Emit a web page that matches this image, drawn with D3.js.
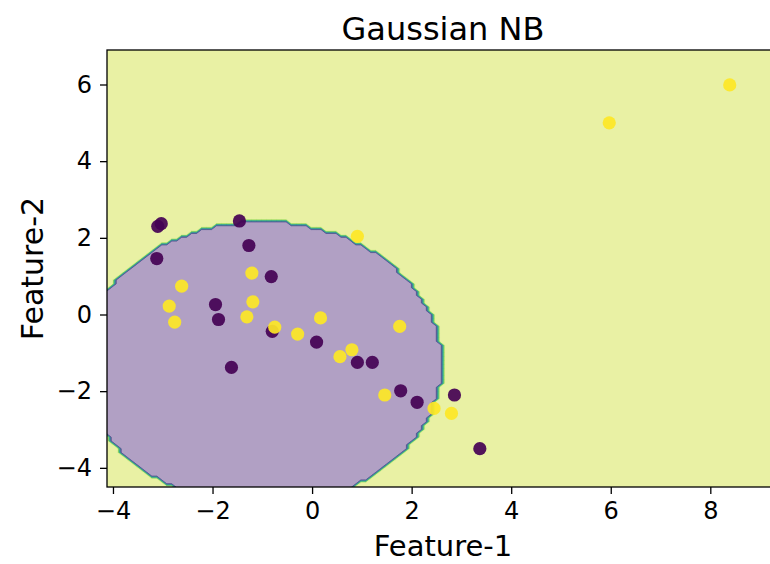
<!DOCTYPE html>
<html>
<head>
<meta charset="utf-8">
<script src="https://cdn.jsdelivr.net/npm/d3@7"></script>
<style>
  html, body { margin: 0; padding: 0; background: #ffffff; }
  svg { display: block; font-family: "DejaVu Sans", sans-serif; }
</style>
</head>
<body>
<svg id="chart" width="770" height="564"></svg>
<script>
// ---- data ----
const title = "Gaussian NB";
const xLabel = "Feature-1";
const yLabel = "Feature-2";
const xTicks = [-4, -2, 0, 2, 4, 6, 8];
const yTicks = [-4, -2, 0, 2, 4, 6];

// class 0 (purple)
const class0X = [-3.10, -3.03, -1.46, -1.27, -3.12, -0.82, -1.94, -1.88, -0.80, 0.09, -1.62, 0.91, 1.21, 1.78, 2.11, 2.86, 3.37];
const class0Y = [ 2.30,  2.37,  2.44,  1.80,  1.46,  0.99,  0.26, -0.13, -0.44, -0.72, -1.38, -1.25, -1.25, -1.99, -2.29, -2.10, -3.50];
// class 1 (yellow)
const class1X = [0.91, -1.21, -2.62, -1.19, -2.87, -2.76, -1.31, -0.75, 0.17, -0.29, 1.76, 0.56, 0.80, 1.46, 2.45, 2.80, 5.97, 8.39];
const class1Y = [2.04,  1.08,  0.74,  0.33,  0.22, -0.20, -0.06, -0.33, -0.09, -0.51, -0.31, -1.10, -0.92, -2.10, -2.45, -2.58, 5.00, 5.99];

// Gaussian NB parameters (estimated from the decision boundary in the picture)
const classPrior = [0.47, 0.53];
const classMeanX = [-0.548, 0.60];
const classMeanY = [-0.097, 1.20];
const classVarX  = [3.90, 13.80];
const classVarY  = [3.00, 6.29];

const gridStep = 0.1;

// ---- build points ----
const points = [];
class0X.forEach((x, i) => points.push({x, y: class0Y[i], c: 0}));
class1X.forEach((x, i) => points.push({x, y: class1Y[i], c: 1}));

function predict(x, y) {
  let best = -Infinity, bc = 0;
  classPrior.forEach((p, c) => {
    const ll = Math.log(p)
      - 0.5 * Math.log(2 * Math.PI * classVarX[c]) - 0.5 * (x - classMeanX[c]) ** 2 / classVarX[c]
      - 0.5 * Math.log(2 * Math.PI * classVarY[c]) - 0.5 * (y - classMeanY[c]) ** 2 / classVarY[c];
    if (ll > best) { best = ll; bc = c; }
  });
  return bc;
}

// mesh grid like np.arange(min-1, max+1, h)
const allX = points.map(p => p.x), allY = points.map(p => p.y);
const x0 = d3.min(allX) - 1, x1 = d3.max(allX) + 1;
const y0 = d3.min(allY) - 1, y1 = d3.max(allY) + 1;
const nx = Math.ceil((x1 - x0) / gridStep), ny = Math.ceil((y1 - y0) / gridStep);
const Z = new Array(nx * ny);
for (let j = 0; j < ny; j++) for (let i = 0; i < nx; i++) {
  Z[j * nx + i] = predict(x0 + i * gridStep, y0 + j * gridStep);
}
const gxMax = x0 + (nx - 1) * gridStep, gyMax = y0 + (ny - 1) * gridStep;

// ---- layout ----
const svg = d3.select("#chart");
const plot = {left: 107, top: 50, right: 779, bottom: 487};
const xScale = d3.scaleLinear().domain([x0, gxMax]).range([plot.left, plot.right]);
const yScale = d3.scaleLinear().domain([y0, gyMax]).range([plot.bottom, plot.top]);

svg.append("defs").append("clipPath").attr("id", "clip")
  .append("rect").attr("x", plot.left).attr("y", plot.top)
  .attr("width", plot.right - plot.left).attr("height", plot.bottom - plot.top);

const levels = [0.15, 0.3, 0.45, 0.6, 0.75, 0.9];
const bandColors = d3.range(7).map(k => {
  if (k === 0) return "#b1a0c4";
  if (k === 6) return "#e9f1a4";
  return d3.interpolateRgb("#ffffff", d3.interpolateViridis(k / 6))(0.9);
});

const g = svg.append("g").attr("clip-path", "url(#clip)");
g.append("rect").attr("x", plot.left).attr("y", plot.top)
  .attr("width", plot.right - plot.left).attr("height", plot.bottom - plot.top)
  .attr("fill", bandColors[0]);

const contours = d3.contours().size([nx, ny]).smooth(true).thresholds(levels)(Z);
const proj = d3.geoTransform({
  point: function(gx, gy) {
    this.stream.point(xScale(x0 + (gx - 0.5) * gridStep), yScale(y0 + (gy - 0.5) * gridStep));
  }
});
const path = d3.geoPath(proj);
g.selectAll("path.band").data(contours).join("path")
  .attr("class", "band")
  .attr("d", path)
  .attr("fill", (d, i) => bandColors[i + 1])
  .attr("stroke", (d, i) => bandColors[i + 1])
  .attr("stroke-width", 0.8);

// scatter
const colors = ["#440154", "#fde725"];
g.selectAll("circle.pt").data(points).join("circle")
  .attr("class", "pt")
  .attr("cx", d => xScale(d.x)).attr("cy", d => yScale(d.y))
  .attr("r", 6.6)
  .attr("fill", d => colors[d.c])
  .attr("fill-opacity", 0.92);

// axes
const fmt = d => d < 0 ? "\u2212" + Math.abs(d) : String(d);
const xAxis = d3.axisBottom(xScale).tickValues(xTicks).tickSize(7).tickPadding(8).tickFormat(fmt);
const yAxis = d3.axisLeft(yScale).tickValues(yTicks).tickSize(7).tickPadding(8).tickFormat(fmt);

const gx = svg.append("g").attr("transform", `translate(0,${plot.bottom})`).call(xAxis);
const gy = svg.append("g").attr("transform", `translate(${plot.left},0)`).call(yAxis);
[gx, gy].forEach(a => {
  a.select(".domain").remove();
  a.selectAll(".tick line").attr("stroke", "#000").attr("stroke-width", 1.3);
  a.selectAll(".tick text").attr("fill", "#000").style("font-size", "24px")
    .style("font-family", "'DejaVu Sans', sans-serif");
});

// spines
svg.append("rect").attr("x", plot.left).attr("y", plot.top)
  .attr("width", plot.right - plot.left).attr("height", plot.bottom - plot.top)
  .attr("fill", "none").attr("stroke", "#000").attr("stroke-width", 1.3);

// labels
svg.append("text").attr("x", (plot.left + plot.right) / 2).attr("y", 40)
  .attr("text-anchor", "middle").style("font-size", "32px").text(title);
svg.append("text").attr("x", (plot.left + plot.right) / 2).attr("y", 556)
  .attr("text-anchor", "middle").style("font-size", "29px").text(xLabel);
svg.append("text").attr("transform", `translate(43,${(plot.top + plot.bottom) / 2}) rotate(-90)`)
  .attr("text-anchor", "middle").style("font-size", "30px").text(yLabel);
</script>
</body>
</html>
